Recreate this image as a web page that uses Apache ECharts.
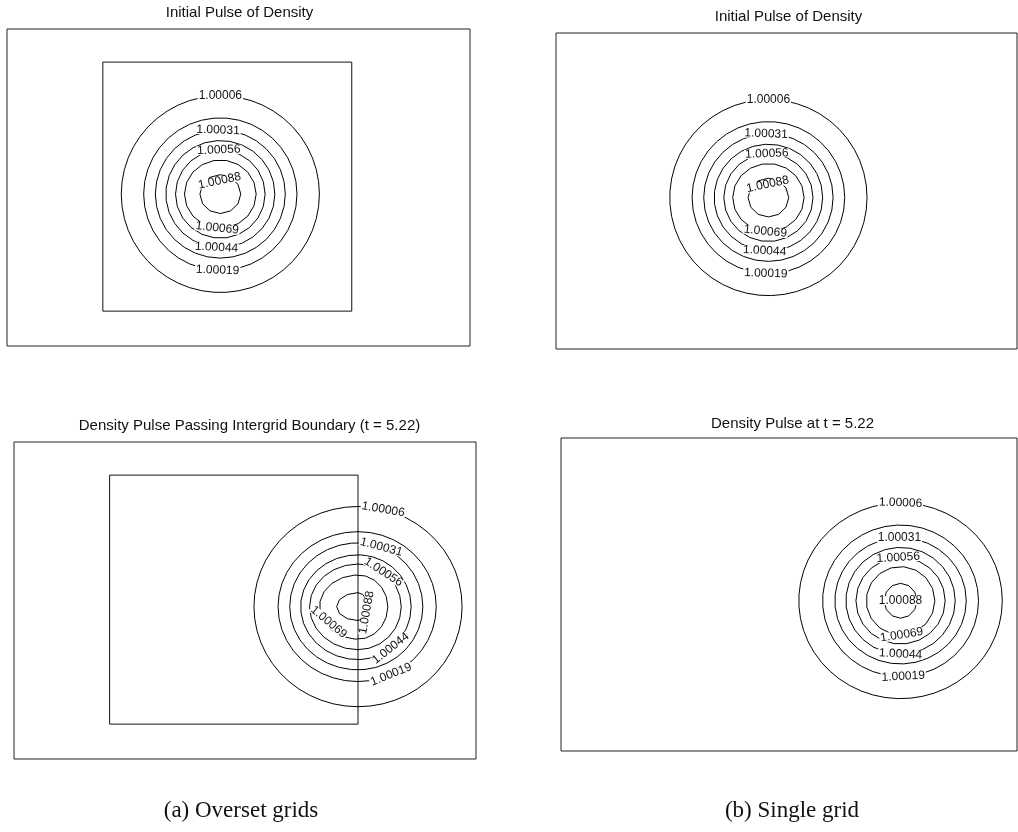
<!DOCTYPE html>
<html>
<head>
<meta charset="utf-8">
<script src="https://cdn.jsdelivr.net/npm/echarts@6/dist/echarts.min.js"></script>
<style>
  html, body { margin: 0; padding: 0; background: #fff; }
  #chart { width: 1018px; height: 832px; }
</style>
</head>
<body>
<div id="chart"></div>
<script>
// Contour levels of density, outermost ring first
const levels = ['1.00006', '1.00019', '1.00031', '1.00044', '1.00056', '1.00069', '1.00088'];

// Extents of the background (coarse) grid and the overset (fine) grid
const backgroundX = [-3.85, 14.75];
const backgroundY = [-1.4, 11.33];
const fineX = [0, 10];
const fineY = [0, 10];

// Initial pulse: centre and ring half-widths / half-heights
const initialCenter = [4.72, 4.70];
const initialRx = [3.98, 3.08, 2.61, 2.19, 1.80, 1.44, 0.82];
const initialRy = [3.95, 3.06, 2.57, 2.15, 1.77, 1.37, 0.78];

// Pulse at t = 5.22, overset grids (left part lies on the fine grid)
const oversetCenter = [10.0, 4.72];
const oversetRxLeft = [4.19, 3.22, 2.75, 2.31, 1.95, 1.55, 0.86];
const oversetRxRight = [4.19, 3.15, 2.61, 2.14, 1.74, 1.20, 0.38];
const oversetRyTop = [4.02, 3.01, 2.56, 2.08, 1.71, 1.27, 0.56];
const oversetRyBottom = [4.02, 3.01, 2.54, 2.13, 1.73, 1.31, 0.56];

// Pulse at t = 5.22, single grid
const singleCenter = [10.0, 4.71];
const singleRx = [4.15, 3.18, 2.68, 2.23, 1.82, 1.40, 0.67];
const singleRy = [3.98, 3.08, 2.57, 2.17, 1.76, 1.39, 0.71];

// Label placement along each ring: angle (deg), rotation (deg), radial fraction
const initialLabelAngle = [90, 268, 92, 266, 92, 265, 93];
const initialLabelRot = [0, -2, -2, -3, 2, -6, 12];
const initialLabelFrac = [1, 1, 1, 1, 1, 1, 0.68];

const oversetLabelAngle = [76, 295, 69, 308, 54, 212, 335];
const oversetLabelRot = [-10, 22, -15, 38, -33, -40, 80];
const oversetLabelFrac = [1, 1, 1, 1, 1, 0.9, 1];

const singleLabelAngle = [90, 272, 91, 270, 93, 272, 0];
const singleLabelRot = [-2, 3, 0, -3, 3, 9, 0];
const singleLabelFrac = [1, 1, 1, 1, 1, 1, 0];

const titles = [
  'Initial Pulse of Density',
  'Initial Pulse of Density',
  'Density Pulse Passing Intergrid Boundary (t = 5.22)',
  'Density Pulse at t = 5.22'
];
const captions = ['(a) Overset grids', '(b) Single grid'];

// Panel boxes in pixels: [left, top, width, height]
const panelBoxes = [
  [7, 29, 463, 317],
  [556, 33, 461, 316],
  [14, 442, 462, 317],
  [561, 438, 456, 313]
];

function ringSet(center, rxL, rxR, ryT, ryB) {
  return rxL.map((_, i) => [center[0], center[1], rxL[i], rxR[i], ryT[i], ryB[i]]);
}

const panels = [
  { rings: ringSet(initialCenter, initialRx, initialRx, initialRy, initialRy),
    angle: initialLabelAngle, rot: initialLabelRot, frac: initialLabelFrac, fine: true },
  { rings: ringSet(initialCenter, initialRx, initialRx, initialRy, initialRy),
    angle: initialLabelAngle, rot: initialLabelRot, frac: initialLabelFrac, fine: false },
  { rings: ringSet(oversetCenter, oversetRxLeft, oversetRxRight, oversetRyTop, oversetRyBottom),
    angle: oversetLabelAngle, rot: oversetLabelRot, frac: oversetLabelFrac, fine: true },
  { rings: ringSet(singleCenter, singleRx, singleRx, singleRy, singleRy),
    angle: singleLabelAngle, rot: singleLabelRot, frac: singleLabelFrac, fine: false }
];

function ringPoint(r, thetaDeg, frac) {
  const t = thetaDeg * Math.PI / 180;
  const c = Math.cos(t), s = Math.sin(t);
  const dx = c * (c >= 0 ? r[3] : r[2]);
  const dy = s * (s >= 0 ? r[4] : r[5]);
  return [r[0] + frac * dx, r[1] + frac * dy];
}

function renderRing(params, api) {
  const r = [0, 1, 2, 3, 4, 5].map(k => api.value(k));
  const pxR = api.size([Math.max(r[2], r[3]), 0])[0];
  const n = Math.max(12, Math.round(pxR / 2));
  const pts = [];
  for (let k = 0; k <= n; k++) {
    pts.push(api.coord(ringPoint(r, 360 * k / n, 1)));
  }
  return {
    type: 'polyline',
    shape: { points: pts },
    style: { fill: null, stroke: '#000', lineWidth: 1 }
  };
}

function makeLabelRenderer(panel) {
  return function (params, api) {
    const i = params.dataIndex;
    const p = api.coord([api.value(0), api.value(1)]);
    return {
      type: 'text',
      x: p[0],
      y: p[1],
      rotation: panel.rot[i] * Math.PI / 180,
      style: {
        text: levels[i],
        x: 0, y: 0,
        align: 'center',
        verticalAlign: 'middle',
        font: '12px "Liberation Sans", Arial, sans-serif',
        fill: '#111',
        backgroundColor: '#fff',
        padding: [0, 1],
        lineHeight: 9
      }
    };
  };
}

const grid = panelBoxes.map(b => ({
  left: b[0], top: b[1], width: b[2], height: b[3],
  show: true, borderColor: '#222', borderWidth: 1, backgroundColor: 'transparent'
}));
const xAxis = panelBoxes.map((b, i) => ({
  type: 'value', gridIndex: i, min: backgroundX[0], max: backgroundX[1], show: false
}));
const yAxis = panelBoxes.map((b, i) => ({
  type: 'value', gridIndex: i, min: backgroundY[0], max: backgroundY[1], show: false
}));

const series = [];
panels.forEach((panel, i) => {
  if (panel.fine) {
    series.push({
      type: 'line', xAxisIndex: i, yAxisIndex: i, silent: true, symbol: 'none',
      lineStyle: { color: '#111', width: 1 },
      data: [[fineX[0], fineY[0]], [fineX[1], fineY[0]], [fineX[1], fineY[1]],
             [fineX[0], fineY[1]], [fineX[0], fineY[0]]],
      z: 2
    });
  }
  series.push({
    type: 'custom', xAxisIndex: i, yAxisIndex: i, silent: true,
    renderItem: renderRing,
    data: panel.rings,
    z: 3
  });
  series.push({
    type: 'custom', xAxisIndex: i, yAxisIndex: i, silent: true,
    renderItem: makeLabelRenderer(panel),
    data: panel.rings.map((r, k) => ringPoint(r, panel.angle[k], panel.frac[k])),
    z: 4
  });
});

const titleFont = '15px "Liberation Sans", Arial, sans-serif';
const captionFont = '23px "Liberation Serif", "Times New Roman", serif';
const graphic = [
  { type: 'text', x: 239.5, y: 13, style: { text: titles[0], font: titleFont, fill: '#111', align: 'center', verticalAlign: 'middle' } },
  { type: 'text', x: 788.5, y: 16.5, style: { text: titles[1], font: titleFont, fill: '#111', align: 'center', verticalAlign: 'middle' } },
  { type: 'text', x: 249.5, y: 426, style: { text: titles[2], font: titleFont, fill: '#111', align: 'center', verticalAlign: 'middle' } },
  { type: 'text', x: 792.5, y: 423.5, style: { text: titles[3], font: titleFont, fill: '#111', align: 'center', verticalAlign: 'middle' } },
  { type: 'text', x: 241, y: 811, style: { text: captions[0], font: captionFont, fill: '#111', align: 'center', verticalAlign: 'middle' } },
  { type: 'text', x: 792, y: 811, style: { text: captions[1], font: captionFont, fill: '#111', align: 'center', verticalAlign: 'middle' } }
];

const chart = echarts.init(document.getElementById('chart'), null, { renderer: 'canvas' });
chart.setOption({
  animation: false,
  backgroundColor: '#fff',
  grid, xAxis, yAxis, series, graphic
});
</script>
</body>
</html>
